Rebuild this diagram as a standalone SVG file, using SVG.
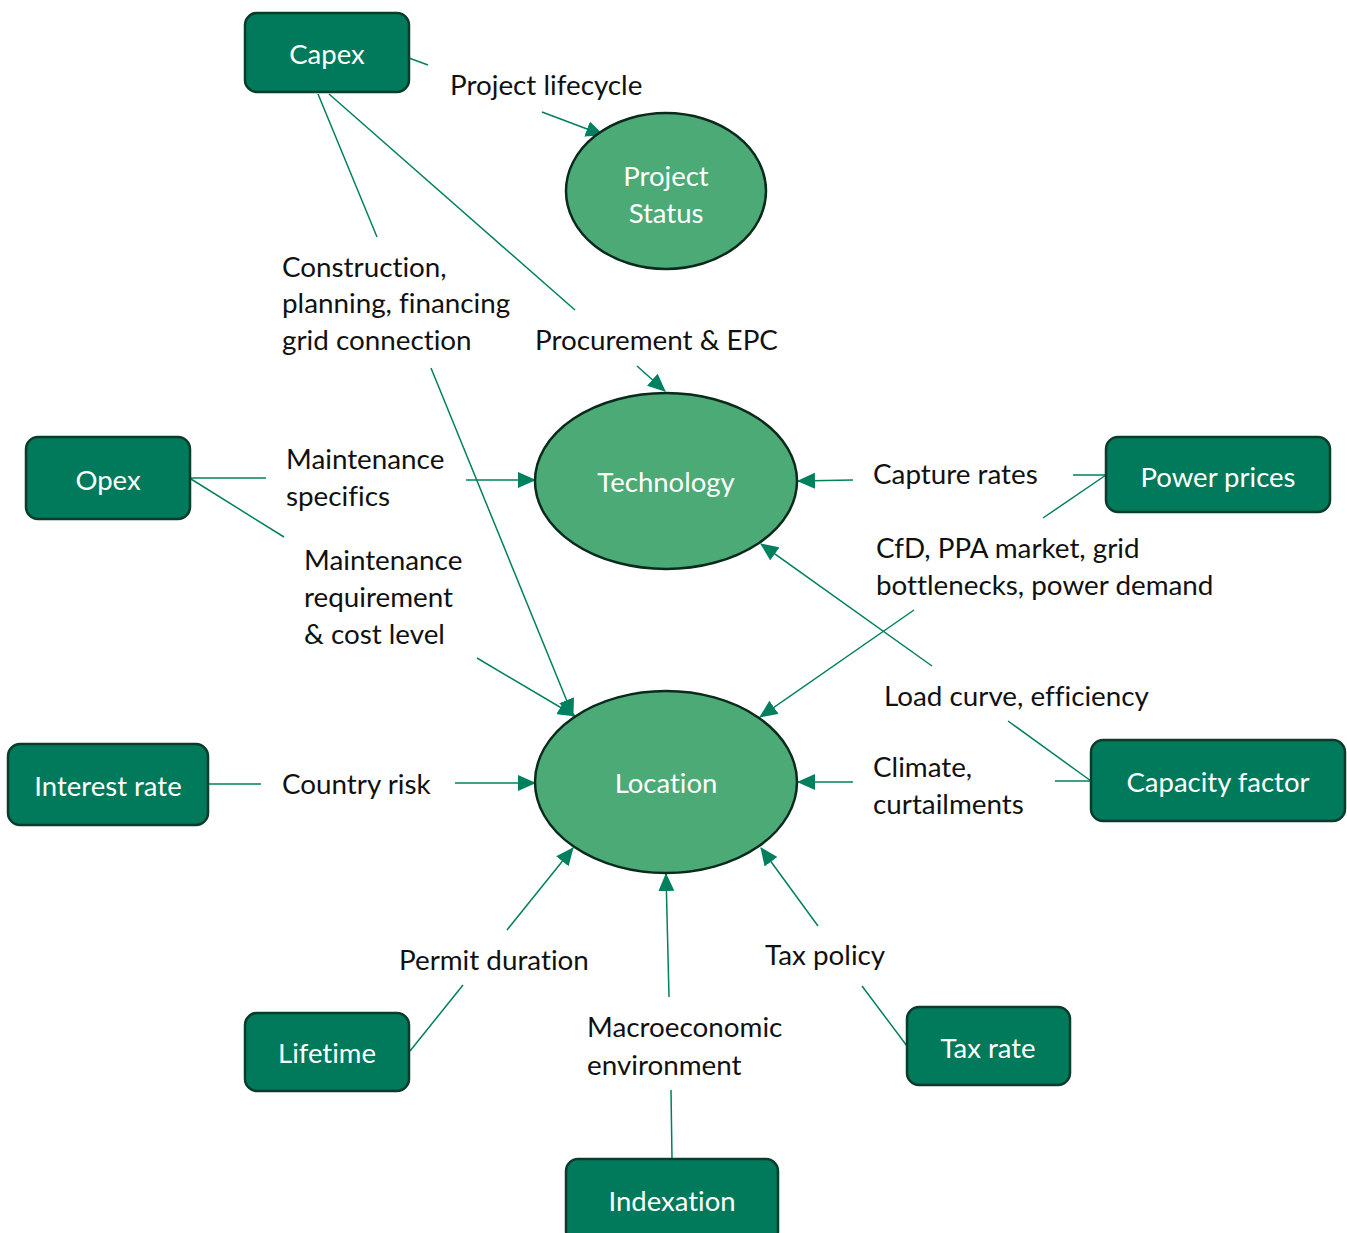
<svg xmlns="http://www.w3.org/2000/svg" width="1347" height="1233" viewBox="0 0 1347 1233">
  <style>
    .box { fill: #007A5A; stroke: #0B3B2A; stroke-width: 2.5; }
    .oval { fill: #4CAA76; stroke: #0A2A1C; stroke-width: 2.5; }
    .ntext { font-family: "Lato", "Liberation Sans", sans-serif; font-size: 27.5px; fill: #FFFFFF; text-anchor: middle; dominant-baseline: central; font-variant-ligatures: none; }
    .label { font-family: "Lato", "Liberation Sans", sans-serif; font-size: 27.8px; fill: #111111; font-variant-ligatures: none; }
    .link { stroke: #00805E; stroke-width: 1.5; fill: none; }
    .arrow { stroke: #00805E; stroke-width: 1.5; fill: none; marker-end: url(#head); }
  </style>
  <defs>
    <marker id="head" markerUnits="userSpaceOnUse" markerWidth="18" markerHeight="16" viewBox="0 0 18 16" refX="17" refY="8" orient="auto">
      <path d="M0,0 L18,8 L0,16 Z" fill="#00805E"/>
    </marker>
  </defs>
  <rect width="1347" height="1233" fill="#FFFFFF"/>

  <g id="connectors">
    <!-- Capex to Project Status -->
    <line class="link" x1="409" y1="58" x2="428" y2="65"/>
    <line class="arrow" x1="542" y1="112" x2="603" y2="135"/>
    <!-- Capex to Location -->
    <line class="link" x1="318" y1="94" x2="377" y2="237"/>
    <line class="arrow" x1="431" y1="368" x2="573" y2="716"/>
    <!-- Capex to Technology -->
    <line class="link" x1="329" y1="94" x2="575" y2="310"/>
    <line class="arrow" x1="637" y1="366" x2="665" y2="391"/>
    <!-- Opex to Technology -->
    <line class="link" x1="191" y1="478" x2="266" y2="478"/>
    <line class="arrow" x1="466" y1="480" x2="535" y2="480"/>
    <!-- Opex to Location -->
    <line class="link" x1="191" y1="479" x2="284" y2="537"/>
    <line class="arrow" x1="477" y1="658" x2="575" y2="716"/>
    <!-- Power prices to Technology -->
    <line class="link" x1="1106" y1="475" x2="1073" y2="475"/>
    <line class="arrow" x1="853" y1="480" x2="798" y2="481"/>
    <!-- Power prices to Location -->
    <line class="link" x1="1106" y1="475" x2="1043" y2="518"/>
    <line class="arrow" x1="914" y1="610" x2="760" y2="717"/>
    <!-- Capacity factor to Technology -->
    <line class="link" x1="1091" y1="781" x2="1008" y2="721"/>
    <line class="arrow" x1="932" y1="666" x2="761" y2="544"/>
    <!-- Capacity factor to Location -->
    <line class="link" x1="1091" y1="781" x2="1055" y2="781"/>
    <line class="arrow" x1="853" y1="782" x2="798" y2="782"/>
    <!-- Interest rate to Location -->
    <line class="link" x1="208" y1="784" x2="261" y2="784"/>
    <line class="arrow" x1="455" y1="783" x2="535" y2="783"/>
    <!-- Lifetime to Location -->
    <line class="link" x1="410" y1="1051" x2="463" y2="985"/>
    <line class="arrow" x1="507" y1="930" x2="573" y2="848"/>
    <!-- Indexation to Location -->
    <line class="link" x1="672" y1="1159" x2="671" y2="1090"/>
    <line class="arrow" x1="669" y1="997" x2="666" y2="874"/>
    <!-- Tax rate to Location -->
    <line class="link" x1="907" y1="1046" x2="862" y2="986"/>
    <line class="arrow" x1="818" y1="926" x2="761" y2="848"/>
  </g>

  <g id="labels">
    <text class="label" x="450" y="95">Project lifecycle</text>
    <text class="label" x="282" y="277">Construction,</text>
    <text class="label" x="282" y="313">planning, financing</text>
    <text class="label" x="282" y="350">grid connection</text>
    <text class="label" x="535" y="350">Procurement &amp; EPC</text>
    <text class="label" x="286" y="469">Maintenance</text>
    <text class="label" x="286" y="506">specifics</text>
    <text class="label" x="304" y="570">Maintenance</text>
    <text class="label" x="304" y="607">requirement</text>
    <text class="label" x="304" y="644">&amp; cost level</text>
    <text class="label" x="873" y="484">Capture rates</text>
    <text class="label" x="876" y="558">CfD, PPA market, grid</text>
    <text class="label" x="876" y="595">bottlenecks, power demand</text>
    <text class="label" x="884" y="706">Load curve, efficiency</text>
    <text class="label" x="873" y="777">Climate,</text>
    <text class="label" x="873" y="814">curtailments</text>
    <text class="label" x="282" y="794">Country risk</text>
    <text class="label" x="399" y="970">Permit duration</text>
    <text class="label" x="587" y="1037">Macroeconomic</text>
    <text class="label" x="587" y="1075">environment</text>
    <text class="label" x="765" y="965">Tax policy</text>
  </g>

  <g id="capex">
    <rect class="box" x="245" y="13" width="164" height="79" rx="12"/>
    <text class="ntext" x="327" y="53">Capex</text>
  </g>
  <g id="project-status">
    <ellipse class="oval" cx="666" cy="191" rx="100" ry="78"/>
    <text class="ntext" x="666" y="175">Project</text>
    <text class="ntext" x="666" y="212">Status</text>
  </g>
  <g id="technology">
    <ellipse class="oval" cx="666" cy="481" rx="131" ry="88"/>
    <text class="ntext" x="666" y="481">Technology</text>
  </g>
  <g id="location">
    <ellipse class="oval" cx="666" cy="782" rx="131" ry="91"/>
    <text class="ntext" x="666" y="782">Location</text>
  </g>
  <g id="opex">
    <rect class="box" x="26" y="437" width="164" height="82" rx="12"/>
    <text class="ntext" x="108" y="479">Opex</text>
  </g>
  <g id="power-prices">
    <rect class="box" x="1106" y="437" width="224" height="75" rx="12"/>
    <text class="ntext" x="1218" y="476">Power prices</text>
  </g>
  <g id="interest-rate">
    <rect class="box" x="8" y="744" width="200" height="81" rx="12"/>
    <text class="ntext" x="108" y="785">Interest rate</text>
  </g>
  <g id="capacity-factor">
    <rect class="box" x="1091" y="740" width="254" height="81" rx="12"/>
    <text class="ntext" x="1218" y="781">Capacity factor</text>
  </g>
  <g id="lifetime">
    <rect class="box" x="245" y="1013" width="164" height="78" rx="12"/>
    <text class="ntext" x="327" y="1052">Lifetime</text>
  </g>
  <g id="tax-rate">
    <rect class="box" x="907" y="1007" width="163" height="78" rx="12"/>
    <text class="ntext" x="988" y="1047">Tax rate</text>
  </g>
  <g id="indexation">
    <rect class="box" x="566" y="1159" width="212" height="84" rx="12"/>
    <text class="ntext" x="672" y="1200">Indexation</text>
  </g>
</svg>
